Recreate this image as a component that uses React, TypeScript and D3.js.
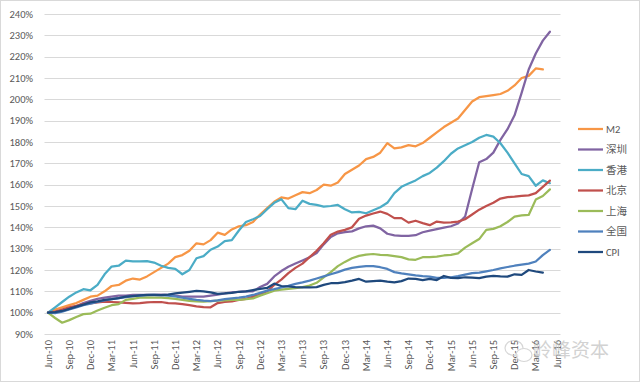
import React from "react";
import * as d3 from "d3";

// ---- data (index = month since Jun-2010) ----
const startMonth = new Date(2010, 5, 1);
const categories: Date[] = d3.timeMonth.range(startMonth, new Date(2016, 6, 1)); // Jun-10 .. Jun-16 (73)

const tickLabels = [
  "Jun-10", "Sep-10", "Dec-10", "Mar-11", "Jun-11", "Sep-11", "Dec-11", "Mar-12", "Jun-12",
  "Sep-12", "Dec-12", "Mar-13", "Jun-13", "Sep-13", "Dec-13", "Mar-14", "Jun-14", "Sep-14",
  "Dec-14", "Mar-15", "Jun-15", "Sep-15", "Dec-15", "Mar-16", "Jun-16",
];

const yTicks = [90, 100, 110, 120, 130, 140, 150, 160, 170, 180, 190, 200, 210, 220, 230, 240];

const m2 = [
  100, 101.5, 102.5, 103.5, 104.5, 106, 107.5, 108, 110, 112.5,
  113, 115, 116, 115.5, 117, 119, 121, 123, 126, 127,
  129, 132.5, 132, 134, 137.5, 136.5, 139, 140.5, 141, 142.5,
  146, 149, 152, 154, 153.5, 155, 156.5, 156, 157.5, 160,
  159.5, 161, 165, 167, 169, 172, 173, 175, 179.5, 177,
  177.5, 178.5, 178, 179.5, 182, 184.5, 187, 189, 191, 195,
  199, 201, 201.5, 202, 202.5, 204, 206.5, 210, 211, 214.5, 214,
];

const shenzhen = [
  100, 100, 101, 102, 103, 104.5, 105.5, 106.5, 107, 107.5,
  108, 108, 108.3, 108.3, 108.3, 108.3, 108.5, 108.3, 108, 107.5,
  107.5, 107.5, 107.5, 108, 108.5, 109, 109.5, 109.8, 110, 110,
  112, 113.5, 117, 119.5, 121.5, 123, 124.5, 126, 128, 132,
  135.5, 137.2, 137.8, 138.1, 139.5, 140.5, 140.8, 139.5, 137, 136.2,
  136, 136, 136.3, 137.7, 138.5, 139.2, 139.9, 140.5, 141.8, 145,
  158, 170.5, 172, 175, 181, 186, 192.5, 203, 214, 221.5, 227.5, 231.7,
];

const hongkong = [
  100, 102.5, 105, 107.5, 109.5, 111, 110.5, 113, 118, 121.6,
  122, 124.4, 124, 124, 124.2, 123.5, 122, 121, 120.5, 118,
  120, 125.5, 126.5, 129.5, 131, 133.5, 134, 138.5, 142.5, 143.8,
  145.3, 148.5, 151.5, 153.2, 149, 148.5, 152.5, 151, 150.5, 149.7,
  150, 150.5, 148.5, 147, 147.2, 146.6, 148, 149.4, 151.5, 156,
  159, 160.5, 162, 164, 165.5, 168, 171, 174.5, 177, 178.5,
  180, 182, 183.3, 182.5, 179.4, 175, 170, 165, 164, 159.5, 162, 160.7,
];

const beijing = [
  100, 100.5, 101.5, 102.5, 103.2, 104, 104.3, 104.8, 105.2, 105,
  104.8, 104.6, 104.4, 104.5, 104.8, 105, 105, 104.5, 104.3, 104,
  103.5, 103, 102.6, 102.5, 104.5, 105, 105.3, 106, 106.5, 107.5,
  108.5, 110, 113, 115.5, 118.5, 121, 123, 126, 129, 132.5,
  136.5, 138, 138.8, 140, 144, 145.5, 146.5, 147.4, 146.3, 144.3,
  144.3, 142.2, 143.1, 142, 141, 142.7, 142.2, 142.3, 142.7, 143.8,
  146, 148.3, 150, 151.5, 153.5, 154.2, 154.4, 154.8, 155, 156, 159, 161.9,
];

const shanghai = [
  100, 97.5, 95.3, 96.5, 98, 99.3, 99.5, 101, 102.3, 103.5,
  104, 106, 106.5, 107, 107.2, 107, 107, 106.8, 106.5, 106,
  105.5, 105.3, 105.2, 105.4, 105.6, 105.8, 106, 106, 106.3, 106.7,
  108, 109.1, 110.3, 110.8, 111.2, 111.5, 112, 112.7, 114, 116.5,
  119, 121.8, 123.8, 125.5, 126.6, 127.2, 127.5, 127.1, 127, 126.5,
  126, 125, 124.8, 126, 126, 126.3, 126.8, 127.1, 127.8, 130.5,
  132.5, 134.5, 138.8, 139.3, 140.5, 142.5, 145, 145.6, 145.8, 153, 154.7, 157.8,
];

const national = [
  100, 99.8, 100.5, 101.5, 102.5, 103.5, 104.2, 105, 105.8, 106.3,
  106.8, 107.3, 107.7, 108, 108.2, 108.3, 108.2, 108, 107.6, 107,
  106.5, 106, 105.6, 105.4, 105.8, 106.3, 106.7, 107, 107.5, 108.3,
  109.3, 110.3, 111, 111.8, 112.6, 113.5, 114.2, 115, 116, 117,
  118, 119, 120.2, 121, 121.5, 121.8, 121.8, 121.3, 120.5, 119,
  118.4, 118, 117.5, 117.1, 116.9, 116.3, 116.3, 116.6, 117.1, 117.8,
  118.5, 118.8, 119.4, 120, 120.8, 121.4, 122, 122.5, 123, 124, 127, 129.4,
];

const cpi = [
  100, 100.3, 100.8, 101.8, 102.8, 103.8, 104.8, 105.3, 106, 106.3,
  106.8, 107.5, 107.8, 108.1, 108.3, 108.3, 108.2, 108.5, 109, 109.4,
  109.8, 110.2, 110, 109.5, 108.8, 109, 109.3, 109.8, 110, 110.6,
  111.2, 111.6, 113.6, 112.5, 112.3, 112, 111.9, 111.9, 112, 113,
  113.8, 113.8, 114.3, 115, 115.8, 114.5, 114.8, 115, 114.5, 114.2,
  114.8, 116, 115.8, 115.3, 115.8, 115.3, 117.2, 116.3, 116.2, 116.6,
  116.4, 116.2, 116.9, 117.2, 117, 116.9, 118, 117.7, 120, 119.3, 118.8,
];

const seriesNames = ["M2", "深圳", "香港", "北京", "上海", "全国", "CPI"];
const seriesValues = [m2, shenzhen, hongkong, beijing, shanghai, national, cpi];
const seriesColors = ["#F79646", "#8064A2", "#4BACC6", "#C0504D", "#9BBB59", "#4F81BD", "#1F497D"];

const W = 640;
const H = 382;
const latinFont = "Carlito, Calibri, 'Liberation Sans', Arial, sans-serif";
const cjkFont = "'Noto Sans CJK SC', 'Noto Sans', sans-serif";

export default function App() {
  const x = d3
    .scaleBand<number>()
    .domain(categories.map((_, i) => i))
    .range([44.5, 560.5])
    .paddingInner(0)
    .paddingOuter(0);
  const cx = (i: number) => (x(i) as number) + x.bandwidth() / 2;
  const y = d3.scaleLinear().domain([90, 240]).range([334, 14]);

  const line = d3
    .line<number>()
    .x((_, i) => cx(i))
    .y((d) => y(d));

  const fmt = d3.timeFormat("%b-%y");
  const tickIdx = categories.map((_, i) => i).filter((i) => i % 3 === 0);

  const legendY0 = 129;
  const legendStep = 20.5;

  // draw order: later series on top (CPI drawn last in Excel order)
  return (
    <div style={{ position: "fixed", left: 0, top: 0 }}>
      <svg width={W} height={H} style={{ display: "block", background: "#fff" }}>
        <rect x={0.5} y={0.5} width={W - 1} height={H - 1} fill="#fff" stroke="#D9D9D9" />
        {/* gridlines */}
        {yTicks.map((t) => (
          <line
            key={t}
            x1={44.5}
            x2={560.5}
            y1={Math.round(y(t)) + 0.5}
            y2={Math.round(y(t)) + 0.5}
            stroke="#D9D9D9"
            strokeWidth={1}
          />
        ))}
        {/* y labels */}
        {yTicks.map((t) => (
          <text
            key={"yl" + t}
            x={33}
            y={y(t)}
            dy="0.35em"
            textAnchor="end"
            fontFamily={latinFont}
            fontSize={10.5}
            fill="#595959"
          >
            {t + "%"}
          </text>
        ))}
        {/* x labels */}
        {tickIdx.map((i, k) => (
          <text
            key={"xl" + i}
            transform={`translate(${cx(i)},340) rotate(-90)`}
            dy="0.35em"
            textAnchor="end"
            fontFamily={latinFont}
            fontSize={10.5}
            fill="#595959"
          >
            {tickLabels[k] ?? fmt(categories[i])}
          </text>
        ))}
        {/* lines */}
        {seriesValues.map((vals, s) => (
          <path
            key={seriesNames[s]}
            d={line(vals) || ""}
            fill="none"
            stroke={seriesColors[s]}
            strokeWidth={2.25}
            strokeLinejoin="round"
            strokeLinecap="round"
          />
        ))}
        {/* legend */}
        {seriesNames.map((n, s) => (
          <g key={"lg" + n} transform={`translate(0,${legendY0 + s * legendStep})`}>
            <line x1={578} x2={603} y1={0} y2={0} stroke={seriesColors[s]} strokeWidth={2.25} />
            <text
              x={606}
              y={0}
              dy="0.35em"
              fontFamily={/[A-Za-z0-9]/.test(n) ? latinFont : cjkFont}
              fontSize={/[A-Za-z0-9]/.test(n) ? 10.5 : 10.5}
              fill="#595959"
            >
              {n}
            </text>
          </g>
        ))}
        {/* watermark */}
        <g opacity={0.75}>
          <ellipse cx={514} cy={348} rx={9} ry={7.5} fill="none" stroke="#c9c9c9" strokeWidth={1.2} />
          <ellipse cx={524} cy={355} rx={8} ry={6.5} fill="#fff" stroke="#c9c9c9" strokeWidth={1.2} />
          <text x={533} y={357} fontFamily={cjkFont} fontSize={19} fill="#c4c4c4">
            岭峰资本
          </text>
        </g>
      </svg>
    </div>
  );
}
